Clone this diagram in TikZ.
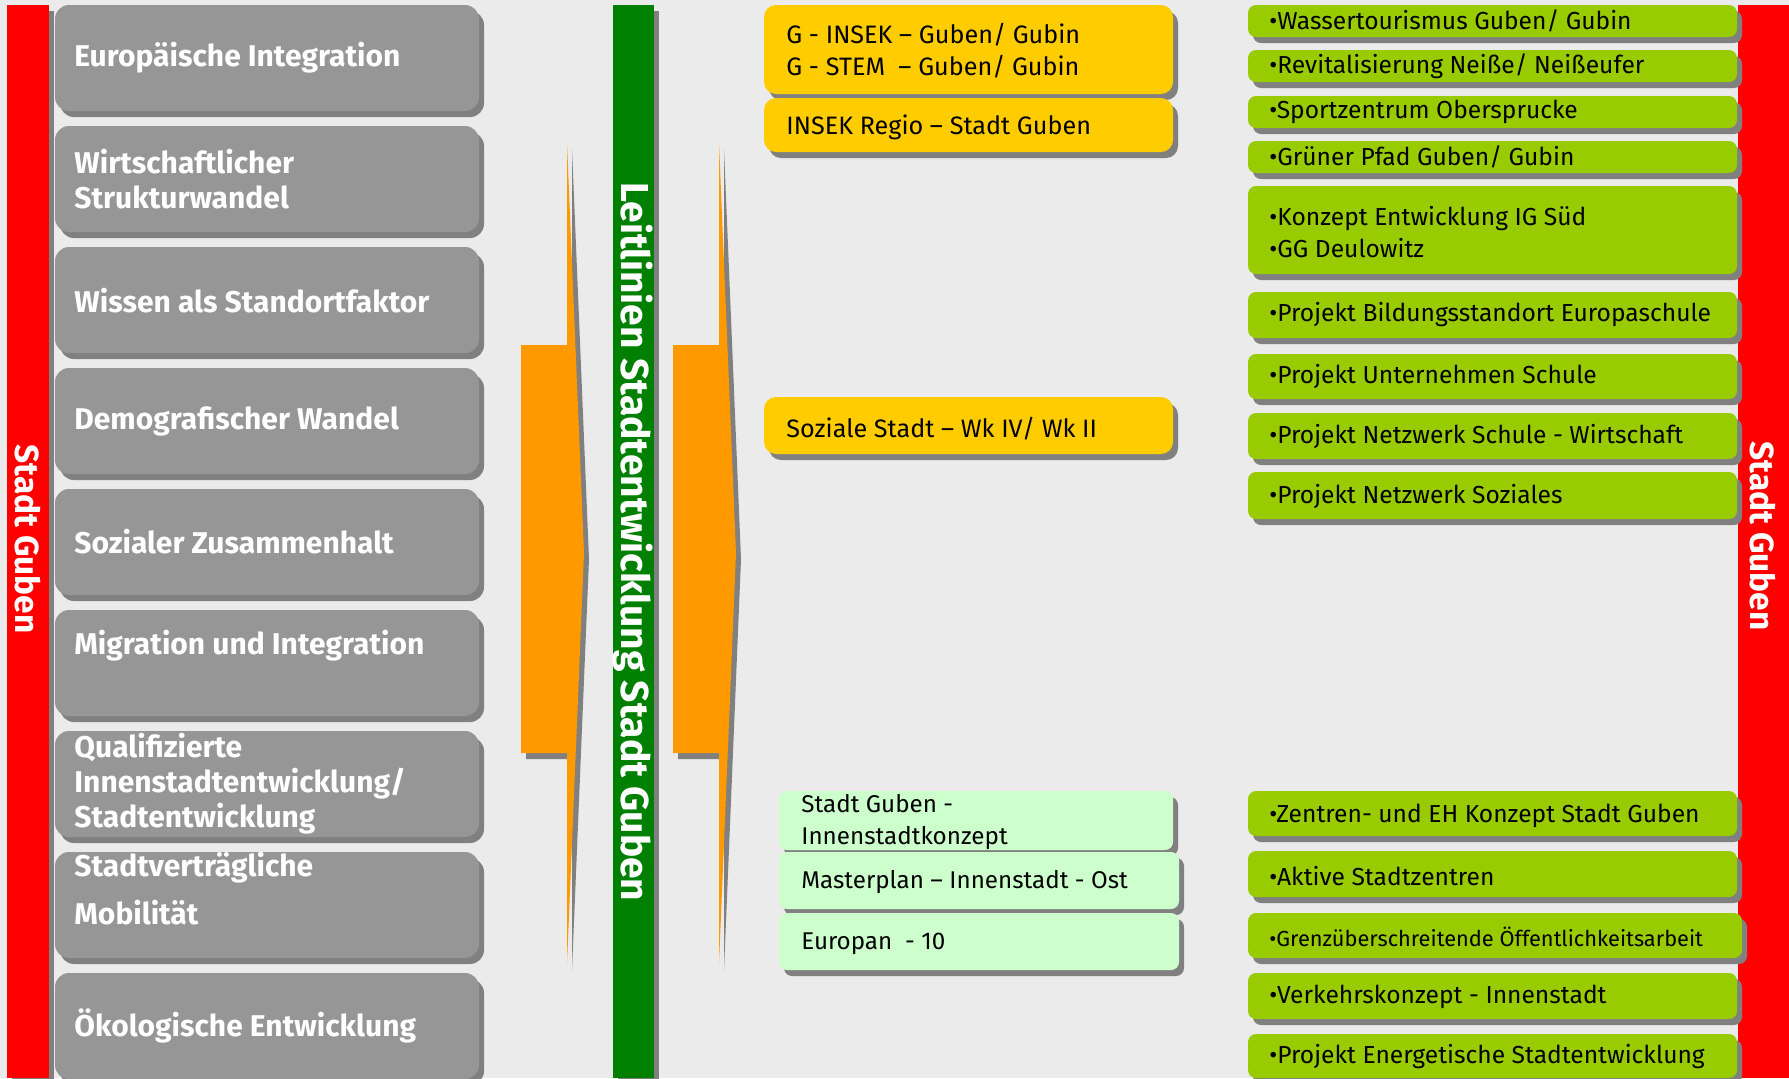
\documentclass[tikz,border=0pt]{standalone}
\usepackage{fontspec}
\setmainfont{Fira Sans}
\usetikzlibrary{shadows}

\definecolor{bggray}{HTML}{EBEBEB}
\definecolor{boxgray}{HTML}{969696}
\definecolor{shadegray}{HTML}{808080}
\definecolor{barred}{HTML}{FF0000}
\definecolor{bargreen}{HTML}{008000}
\definecolor{arroworange}{HTML}{FF9900}
\definecolor{boxyellow}{HTML}{FFCC00}
\definecolor{boxmint}{HTML}{CCFFCC}
\definecolor{boxlime}{HTML}{99CC00}

\begin{document}
\begin{tikzpicture}[x=0.5pt,y=-0.5pt,
        boxshadow/.style={general shadow={fill=shadegray,shadow xshift=2.5pt,shadow yshift=-3pt}},
        themebox/.style={fill=boxgray,rounded corners=7pt,boxshadow},
        yellowbox/.style={fill=boxyellow,rounded corners=6pt,boxshadow},
        mintbox/.style={fill=boxmint,rounded corners=4pt,boxshadow},
        limebox/.style={fill=boxlime,rounded corners=4pt,boxshadow},
        themetext/.style={anchor=west,inner sep=0pt,align=left,text=white,
            font=\fontsize{15}{17.5}\selectfont\bfseries},
        itemtext/.style={anchor=west,inner sep=0pt,align=left,
            font=\fontsize{12.3}{16}\selectfont},
        bartext/.style={rotate=-90,inner sep=0pt,text=white,font=\bfseries}]
        % Background
        \useasboundingbox (0,0) rectangle (1789,1078);
        \fill[bggray] (0,0) rectangle (1789,1078);

        % Bars
        \fill[barred,boxshadow] (7,5) rectangle (49,1078);
        \fill[bargreen,boxshadow] (613,5) rectangle (654,1078);
        \fill[barred] (1738,5) rectangle (1789,1078);
        \node[bartext,font=\fontsize{16.7}{20}\selectfont\bfseries] (cityleft) at (28,539) {Stadt Guben};
        \node[bartext,font=\fontsize{19.5}{22}\selectfont\bfseries] (guideline) at (633,542) {Leitlinien Stadtentwicklung Stadt Guben};
        \node[bartext,font=\fontsize{16.7}{20}\selectfont\bfseries] (cityright) at (1763,536) {Stadt Guben};

        % Arrows
        \foreach \x in {521,673} {
            \fill[arroworange,boxshadow] (\x,345) -- (\x+46,345) -- (\x+46,143) -- (\x+63,553)
                -- (\x+46,964) -- (\x+46,753) -- (\x,753) -- cycle;
        }

        % Themes
        \foreach \i in {0,...,8} {
            \fill[themebox] (55,5+121*\i) rectangle (479,111+121*\i);
        }
        \node[themetext] (europe) at (74,58) {Europäische Integration};
        \node[themetext] (economy) at (74,179) {Wirtschaftlicher\\Strukturwandel};
        \node[themetext] (knowledge) at (74,301) {Wissen als Standortfaktor};
        \node[themetext] (demography) at (74,421) {Demografischer Wandel};
        \node[themetext] (cohesion) at (74,542) {Sozialer Zusammenhalt};
        \node[themetext] (migration) at (74,646) {Migration und Integration};
        \node[themetext] (innercity) at (74,784) {Qualifizierte\\Innenstadtentwicklung/\\Stadtentwicklung};
        \node[themetext] (mobility) at (74,889) {Stadtverträgliche\\[6.5pt]Mobilität};
        \node[themetext] (ecology) at (74,1026) {Ökologische Entwicklung};

        % Programmes
        \fill[yellowbox] (764,5) rectangle (1173,94);
        \fill[yellowbox] (764,98) rectangle (1173,152);
        \fill[yellowbox] (764,397) rectangle (1173,454);
        \fill[mintbox] (779,791) rectangle (1173,850);
        \fill[mintbox] (779,852) rectangle (1179,909);
        \fill[mintbox] (779,913) rectangle (1179,970);
        \node[itemtext,font=\fontsize{12.6}{16}\selectfont] (insek) at (786,51) {G - INSEK – Guben/ Gubin\\G - STEM\ \ – Guben/ Gubin};
        \node[itemtext,font=\fontsize{12.6}{16}\selectfont] (regio) at (786,127) {INSEK Regio – Stadt Guben};
        \node[itemtext,font=\fontsize{12.6}{16}\selectfont] (social) at (786,429) {Soziale Stadt – Wk IV/ Wk II};
        \node[itemtext,font=\fontsize{12.1}{16}\selectfont] (concept) at (801,822) {Stadt Guben -\\Innenstadtkonzept};
        \node[itemtext,font=\fontsize{12.1}{16}\selectfont] (masterplan) at (801,882) {Masterplan – Innenstadt - Ost};
        \node[itemtext,font=\fontsize{12.1}{16}\selectfont] (europan) at (801,944) {Europan\ \ - 10};

        % Projects
        \foreach \t/\b/\r in {5/37/1737,50/82/1737,96/128/1737,141/173/1737,186/274/1737,
                292/338/1737,354/399/1737,413/459/1737,472/519/1737,791/836/1737,
                851/897/1737,913/958/1742,973/1019/1737,1034/1078/1737} {
            \fill[limebox] (1248,\t) rectangle (\r,\b);
        }
        \node[itemtext] (water) at (1269,21) {•Wassertourismus Guben/ Gubin};
        \node[itemtext] (river) at (1269,66) {•Revitalisierung Neiße/ Neißeufer};
        \node[itemtext] (sport) at (1269,112) {•Sportzentrum Obersprucke};
        \node[itemtext] (path) at (1269,157) {•Grüner Pfad Guben/ Gubin};
        \node[itemtext] (industry) at (1269,232) {•Konzept Entwicklung IG Süd\\•GG Deulowitz};
        \node[itemtext] (school) at (1269,315) {•Projekt Bildungsstandort Europaschule};
        \node[itemtext] (enterprise) at (1269,377) {•Projekt Unternehmen Schule};
        \node[itemtext] (network) at (1269,436) {•Projekt Netzwerk Schule - Wirtschaft};
        \node[itemtext] (welfare) at (1269,497) {•Projekt Netzwerk Soziales};
        \node[itemtext] (centres) at (1269,816) {•Zentren- und EH Konzept Stadt Guben};
        \node[itemtext] (active) at (1269,876) {•Aktive Stadtzentren};
        \node[itemtext,font=\fontsize{10.9}{14}\selectfont] (border) at (1269,937) {•Grenzüberschreitende Öffentlichkeitsarbeit};
        \node[itemtext] (traffic) at (1269,997) {•Verkehrskonzept - Innenstadt};
        \node[itemtext] (energy) at (1269,1057) {•Projekt Energetische Stadtentwicklung};

    \end{tikzpicture}
\end{document}
